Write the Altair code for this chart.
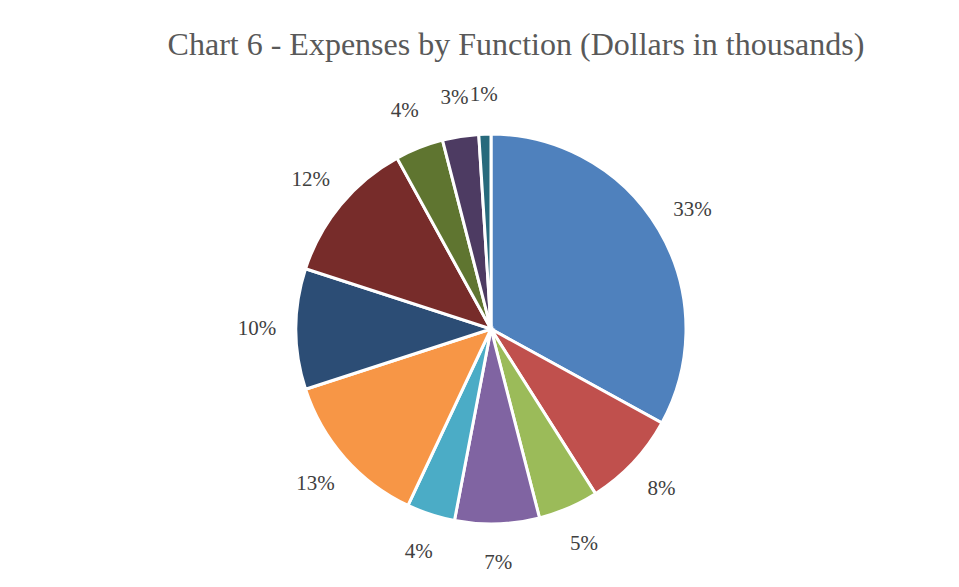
import altair as alt
import pandas as pd

categories = ["F1", "F2", "F3", "F4", "F5", "F6", "F7", "F8", "F9", "F10", "F11"]
values = [33, 8, 5, 7, 4, 13, 10, 12, 4, 3, 1]
labels = ["33%", "8%", "5%", "7%", "4%", "13%", "10%", "12%", "4%", "3%", "1%"]
colors = ["#4F81BD", "#C0504D", "#9BBB59", "#8064A2", "#4BACC6", "#F79646",
          "#2C4D75", "#772C2A", "#5F7530", "#4D3B62", "#276A7C"]

df = pd.DataFrame({
    "category": categories,
    "value": values,
    "label": labels,
    "idx": list(range(len(categories))),
})

base = alt.Chart(df).encode(
    theta=alt.Theta("value:Q", stack=True),
    order=alt.Order("idx:Q"),
)

pie = base.mark_arc(outerRadius=195, stroke="white", strokeWidth=3).encode(
    color=alt.Color("category:N", scale=alt.Scale(domain=categories, range=colors), legend=None)
)

text = base.mark_text(radius=234, font="Liberation Serif", fontSize=21, color="#404040").encode(
    text="label:N"
)

chart = alt.layer(pie, text).properties(
    width=918,
    height=512,
    autosize=alt.AutoSizeParams(type="none"),
    padding={"left": 24, "top": 65, "right": 0, "bottom": 0},
    title=alt.TitleParams(
        "Chart 6 - Expenses by Function (Dollars in thousands)",
        font="Liberation Serif", fontSize=32, fontWeight="normal",
        color="#595959", anchor="middle", dx=25, offset=11,
    ),
).configure_view(stroke=None)

chart.save("out.html", embed_options={"renderer": "svg", "actions": False})
